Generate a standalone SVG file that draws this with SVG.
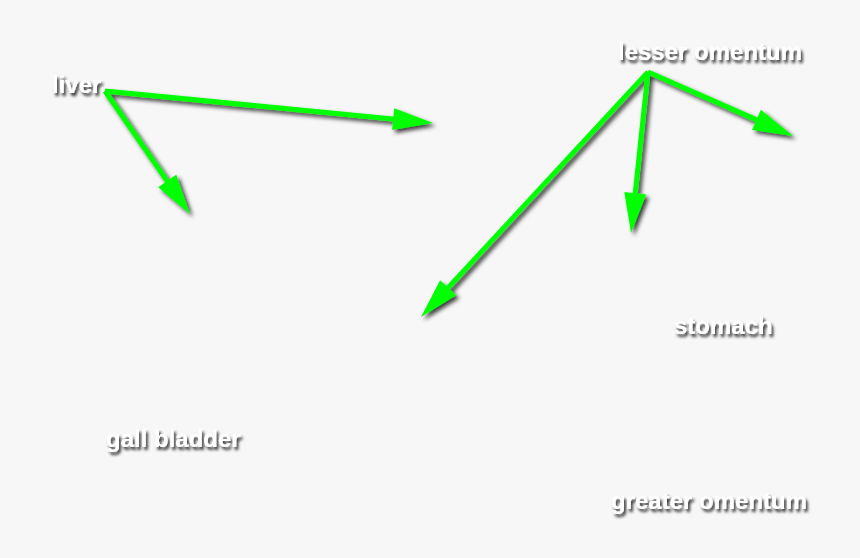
<svg xmlns="http://www.w3.org/2000/svg" width="860" height="558" viewBox="0 0 860 558">
<defs>
<filter id="sh" x="-20%" y="-20%" width="140%" height="140%">
<feDropShadow dx="3" dy="3" stdDeviation="2" flood-color="#000" flood-opacity="0.75"/>
</filter>
<filter id="tsh" x="-20%" y="-40%" width="140%" height="180%">
<feDropShadow dx="2" dy="3" stdDeviation="1.6" flood-color="#000" flood-opacity="0.8"/>
</filter>
<marker id="ah" markerUnits="userSpaceOnUse" markerWidth="40" markerHeight="22" refX="10" refY="11" orient="auto" overflow="visible">
<path d="M0,0 L40,11 L0,22 z" fill="#00ff00"/>
</marker>
</defs>
<style>
.lbl{font-family:"Liberation Sans",Arial,sans-serif;font-weight:bold;font-size:24px;fill:#ffffff;filter:url(#tsh)}
.ar{stroke:#00ff00;stroke-width:5;fill:none;marker-end:url(#ah)}
</style>
<rect width="860" height="558" fill="#f7f7f7"/>
<g id="connectors" filter="url(#sh)">
<line class="ar" x1="105" y1="91" x2="403.1" y2="120.1"/>
<line class="ar" x1="105" y1="91" x2="172.9" y2="189.3"/>
<line class="ar" x1="648" y1="72" x2="765.6" y2="123.9"/>
<line class="ar" x1="648" y1="72" x2="634.2" y2="203.2"/>
<line class="ar" x1="648" y1="72" x2="441.4" y2="295"/>
</g>
<g id="liver"><text class="lbl" x="52" y="93">liver</text></g>
<g id="lesser-omentum"><text class="lbl" x="618" y="60">lesser omentum</text></g>
<g id="stomach"><text class="lbl" x="674" y="334">stomach</text></g>
<g id="gall-bladder"><text class="lbl" x="106" y="447">gall bladder</text></g>
<g id="greater-omentum"><text class="lbl" x="611" y="509">greater omentum</text></g>
</svg>
